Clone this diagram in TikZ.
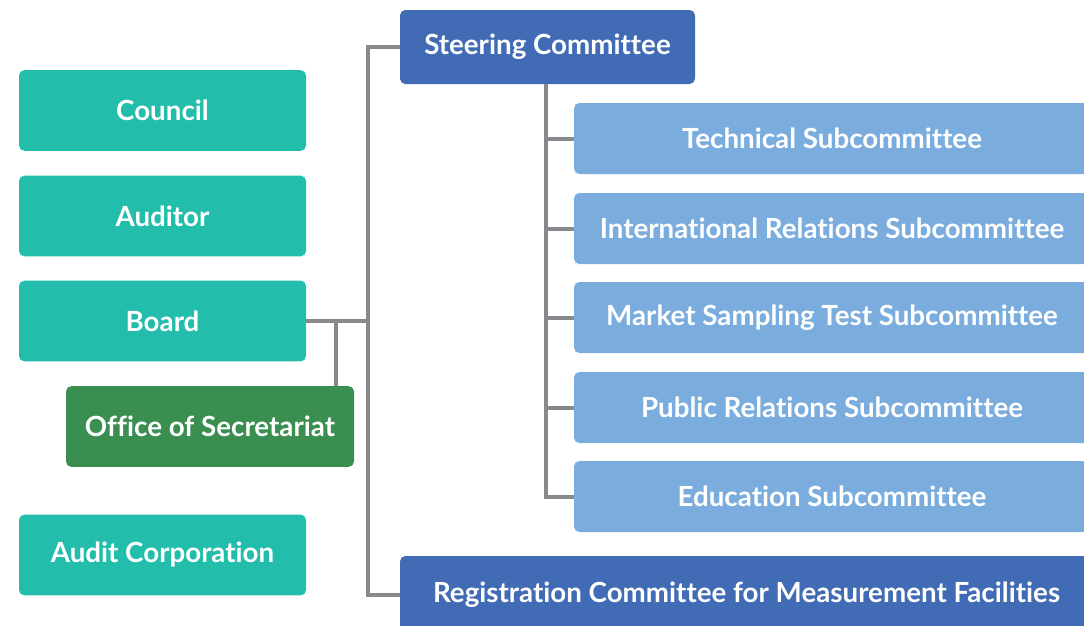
\documentclass[tikz,border=0pt]{standalone}
\usepackage{fontspec}
\setmainfont{Lato}[Ligatures={NoCommon}]
\usepackage{tikz}
\usepackage{xcolor}
\usetikzlibrary{positioning, calc}
\definecolor{TealBox}{HTML}{22BDAB}
\definecolor{SecGreen}{HTML}{3A8F50}
\definecolor{CommBlue}{HTML}{416BB4}
\definecolor{SubBlue}{HTML}{7AADDE}
\definecolor{LinkGray}{HTML}{88898C}

\begin{document}
\begin{tikzpicture}[x=0.75pt, y=-0.75pt,
    box/.style={rounded corners=4pt, inner sep=0pt, text=white,
        font=\fontsize{20.8}{23}\selectfont\bfseries},
    orgbox/.style={box, fill=TealBox, minimum width=215.25pt, minimum height=60.5pt},
    subbox/.style={box, fill=SubBlue, minimum width=387pt, minimum height=53.25pt},
    link/.style={draw=LinkGray, line width=3pt, line join=miter}]
    \useasboundingbox (0,0) rectangle (1084,625);
    \clip (0,0) rectangle (1084,625);

    % left column
    \node[orgbox] (Council) at (162.5,110.5) {Council};
    \node[orgbox] (Auditor) at (162.5,216) {Auditor};
    \node[orgbox] (Board) at (162.5,321) {Board};
    \node[orgbox, fill=SecGreen, minimum width=216pt] (Office) at (210,426.5) {Office of Secretariat};
    \node[orgbox] (AuditCorp) at (162.5,555) {Audit Corporation};

    % committees
    \node[box, fill=CommBlue, minimum width=221.25pt, minimum height=55.5pt] (Steering) at (547.5,47) {Steering Committee};
    \node[box, fill=CommBlue, minimum width=519.75pt, minimum height=58.5pt] (Registration) at (746.5,595)
        {Registration Committee for Measurement Facilities};

    % subcommittees
    \node[subbox] (Technical) at (832,138.5) {Technical Subcommittee};
    \node[subbox] (International) at (832,228.5) {International Relations Subcommittee};
    \node[subbox] (Market) at (832,317.5) {Market Sampling Test Subcommittee};
    \node[subbox] (Public) at (832,407.5) {Public Relations Subcommittee};
    \node[subbox] (Education) at (832,496.5) {Education Subcommittee};

    % connectors
    \coordinate (spine) at (368,0);
    \coordinate (secx) at (336,0);
    \coordinate (subx) at (546,0);
    \draw[link] (Steering.west) -- (Steering.west -| spine) -- (Registration.west -| spine) -- (Registration.west);
    \draw[link] (Board.east) -- (Board.east -| spine);
    \draw[link] (Office.north -| secx) -- (Board.east -| secx);
    \draw[link] (Steering.south -| subx) -- (Education.west -| subx) -- (Education.west);
    \foreach \sub in {Technical, International, Market, Public}
        \draw[link] (\sub.west -| subx) -- (\sub.west);
\end{tikzpicture}
\end{document}
